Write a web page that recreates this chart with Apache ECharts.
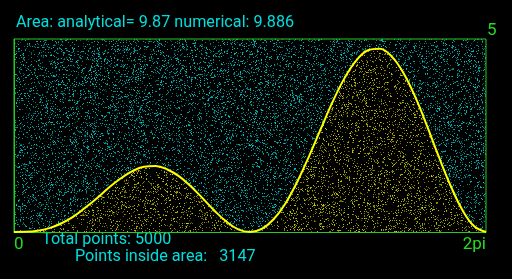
<!DOCTYPE html>
<html><head><meta charset="utf-8">
<script src="https://cdn.jsdelivr.net/npm/echarts@6/dist/echarts.min.js"></script>
<style>html,body{margin:0;padding:0;background:#000}#c{width:512px;height:279px}</style>
</head><body><div id="c"></div>
<script>
const xs = [0,0.157,0.314,0.471,0.628,0.785,0.942,1.100,1.257,1.414,1.571,1.728,1.885,2.042,2.199,2.356,2.513,2.670,2.827,2.985,3.142,3.299,3.456,3.613,3.770,3.927,4.084,4.241,4.398,4.555,4.712,4.869,5.027,5.184,5.341,5.498,5.655,5.812,5.969,6.126,6.283];
const ys = [0,0.004,0.03,0.10,0.22,0.39,0.62,0.87,1.14,1.38,1.57,1.69,1.71,1.62,1.44,1.18,0.87,0.55,0.27,0.07,0,0.08,0.33,0.74,1.30,1.96,2.67,3.37,3.98,4.44,4.71,4.75,4.55,4.12,3.50,2.75,1.95,1.20,0.57,0.15,0];
const xTickLabels = ['0', '2pi'];
const yTickLabels = ['5'];
const areaAnalytical = '9.87';
const areaNumerical = '9.886';
const totalPoints = 5000;
const pointsInside = 3147;

// dotted textures (style only)
function tex(w, h, rgb, density, seed) {
  const c = document.createElement('canvas'); c.width = w; c.height = h;
  const g = c.getContext('2d'); g.fillStyle = '#000'; g.fillRect(0, 0, w, h);
  let s = seed >>> 0;
  const r = () => { s = (s + 0x6D2B79F5) >>> 0; let t = s; t = Math.imul(t ^ (t >>> 15), t | 1); t ^= t + Math.imul(t ^ (t >>> 7), t | 61); return ((t ^ (t >>> 14)) >>> 0) / 4294967296; };
  const n = Math.round(w * h * density);
  for (let i = 0; i < n; i++) {
    const x = Math.floor(r() * w), y = Math.floor(r() * h), a = 0.35 + 0.55 * r();
    g.fillStyle = 'rgba(' + rgb + ',' + a.toFixed(2) + ')';
    g.fillRect(x, y, 1, 1);
  }
  return c;
}
const cyanTex = tex(480, 200, '0,220,220', 0.16, 12345);
const yellowTex = tex(480, 200, '225,225,0', 0.15, 67890);

const green = '#22dd22';
const cyan = '#00dede';
const chart = echarts.init(document.getElementById('c'), null, {renderer: 'canvas'});
chart.setOption({
  backgroundColor: '#000',
  animation: false,
  title: {
    text: 'Area: analytical= ' + areaAnalytical + ' numerical: ' + areaNumerical,
    left: 16, top: 15, padding: 0,
    textStyle: {color: cyan, fontSize: 16.2, fontWeight: 'normal', fontFamily: 'Roboto'}
  },
  grid: {left: 14, right: 26, top: 39, bottom: 47, show: true,
    backgroundColor: {image: cyanTex, repeat: 'repeat'},
    borderColor: '#22cc22', borderWidth: 1},
  xAxis: {
    type: 'value', min: 0, max: 2 * Math.PI, interval: 2 * Math.PI,
    axisLine: {show: true, lineStyle: {color: '#22cc22', width: 1}},
    axisTick: {show: false}, splitLine: {show: false},
    axisLabel: {color: green, fontSize: 17, fontFamily: 'Roboto', margin: 4,
      alignMinLabel: 'left', alignMaxLabel: 'right',
      formatter: v => (v === 0 ? xTickLabels[0] : xTickLabels[1])}
  },
  yAxis: {
    type: 'value', min: 0, max: 5, interval: 5, position: 'right',
    axisLine: {show: true, lineStyle: {color: '#22cc22', width: 1}},
    axisTick: {show: false}, splitLine: {show: false},
    axisLabel: {color: green, fontSize: 17, fontFamily: 'Roboto', margin: 1,
      verticalAlign: 'bottom',
      formatter: v => (v === 5 ? yTickLabels[0] : '')}
  },
  graphic: [
    {type: 'text', left: 42, top: 232, style: {text: 'Total points: ' + totalPoints, fill: cyan, font: '16.2px Roboto'}},
    {type: 'text', left: 75, top: 249, style: {text: 'Points inside area:   ' + pointsInside, fill: cyan, font: '16.2px Roboto'}}
  ],
  series: [{
    type: 'line', smooth: 0.4, symbol: 'none',
    data: xs.map((x, i) => [x, ys[i]]),
    lineStyle: {color: '#ffff00', width: 2},
    areaStyle: {color: {image: yellowTex, repeat: 'repeat'}, opacity: 1}
  }]
});
</script></body></html>
